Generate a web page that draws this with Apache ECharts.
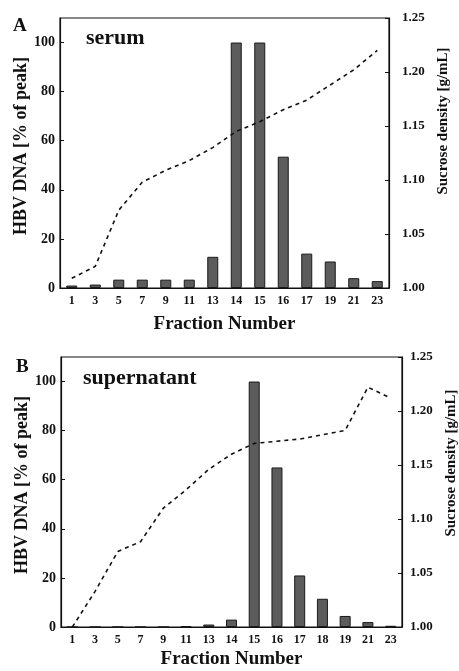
<!DOCTYPE html>
<html>
<head>
<meta charset="utf-8">
<script src="https://cdn.jsdelivr.net/npm/echarts@6/dist/echarts.min.js"></script>
<style>
  html, body { margin: 0; padding: 0; background: #fff; }
  #chart { width: 459px; height: 671px; }
</style>
</head>
<body>
<div id="chart"></div>
<script>
// Panel A: serum fractions
const fractionsA = ['1', '3', '5', '7', '9', '11', '13', '14', '15', '16', '17', '19', '21', '23'];
const dnaA = [1, 1.4, 3.4, 3.4, 3.4, 3.4, 12.7, 100, 100, 53.5, 14, 10.8, 4, 2.8];
const densityA = [1.009, 1.020, 1.072, 1.098, 1.109, 1.118, 1.130, 1.145, 1.154, 1.165, 1.174, 1.188, 1.202, 1.220];

// Panel B: supernatant fractions
const fractionsB = ['1', '3', '5', '7', '9', '11', '13', '14', '15', '16', '17', '18', '19', '21', '23'];
const dnaB = [0, 0, 0, 0, 0, 0.3, 1, 3, 100, 65, 21, 11.5, 4.5, 2, 0.5];
const densityB = [1.000, 1.033, 1.070, 1.079, 1.110, 1.127, 1.146, 1.160, 1.170, 1.172, 1.174, 1.178, 1.182, 1.222, 1.212];

// Axis ticks
const dnaTicks = { min: 0, max: 110, interval: 20 };
const densityTicks = { min: 1.00, max: 1.25, interval: 0.05 };

const FONT = '"Liberation Serif", "DejaVu Serif", serif';
const INK = '#111';

const chart = echarts.init(document.getElementById('chart'), null, { renderer: 'canvas' });

function xAxisFor(gridIndex, cats, gap) {
  return {
    type: 'category',
    gridIndex,
    data: cats,
    boundaryGap: true,
    name: 'Fraction Number',
    nameLocation: 'middle',
    nameGap: gap,
    nameMoveOverlap: false,
    nameTextStyle: { fontFamily: FONT, fontWeight: 'bold', fontSize: 19, color: INK },
    axisLine: { lineStyle: { color: INK, width: 1.2 } },
    axisTick: { show: false },
    axisLabel: { fontFamily: FONT, fontWeight: 'bold', fontSize: 12, color: INK, margin: 7, interval: 0 },
    splitLine: { show: false }
  };
}

function leftAxisFor(gridIndex) {
  return {
    type: 'value',
    gridIndex,
    min: dnaTicks.min,
    max: dnaTicks.max,
    interval: dnaTicks.interval,
    name: 'HBV DNA [% of peak]',
    nameLocation: 'middle',
    nameRotate: 90,
    nameGap: 30,
    nameMoveOverlap: false,
    nameTextStyle: { fontFamily: FONT, fontWeight: 'bold', fontSize: 18, color: INK, padding: [0, 0, 0, 14] },
    axisLine: { show: true, lineStyle: { color: INK, width: 1.2 } },
    axisTick: { show: true, inside: true, length: 4, lineStyle: { color: INK } },
    axisLabel: { fontFamily: FONT, fontWeight: 'bold', fontSize: 14, color: INK, margin: 5, showMaxLabel: false },
    splitLine: { show: false }
  };
}

function rightAxisFor(gridIndex, labelMargin, gap, lift) {
  return {
    type: 'value',
    gridIndex,
    position: 'right',
    min: densityTicks.min,
    max: densityTicks.max,
    interval: densityTicks.interval,
    name: 'Sucrose density [g/mL]',
    nameLocation: 'middle',
    nameRotate: 90,
    nameGap: gap,
    nameTextStyle: { fontFamily: FONT, fontWeight: 'bold', fontSize: 15, color: INK, padding: [0, 0, 0, lift] },
    axisLine: { show: true, lineStyle: { color: INK, width: 1.2 } },
    axisTick: { show: true, inside: true, length: 4, lineStyle: { color: INK } },
    axisLabel: { fontFamily: FONT, fontWeight: 'bold', fontSize: 13, color: INK, margin: labelMargin,
                 formatter: v => v.toFixed(2) },
    splitLine: { show: false }
  };
}

const barStyle = { color: '#5c5c5c', borderColor: '#1a1a1a', borderWidth: 1 };
const lineStyle = { color: INK, width: 1.6, type: [4, 4] };

const titleText = size => ({ fontFamily: FONT, fontWeight: 'bold', fontSize: size, color: INK });

const option = {
  animation: false,
  backgroundColor: '#fff',
  grid: [
    { left: 60, top: 18, width: 329, height: 270, show: true, borderColor: INK, borderWidth: 1.2,
      backgroundColor: 'transparent', containLabel: false, outerBoundsMode: 'none' },
    { left: 61, top: 357, width: 341, height: 270, show: true, borderColor: INK, borderWidth: 1.2,
      backgroundColor: 'transparent', containLabel: false, outerBoundsMode: 'none' }
  ],
  title: [
    { text: 'A', left: 13, top: 17, padding: 0, textStyle: titleText(19) },
    { text: 'serum', left: 86, top: 27, padding: 0, textStyle: titleText(22) },
    { text: 'B', left: 16, top: 358, padding: 0, textStyle: titleText(19) },
    { text: 'supernatant', left: 83, top: 367, padding: 0, textStyle: titleText(22) }
  ],
  xAxis: [xAxisFor(0, fractionsA, 27), xAxisFor(1, fractionsB, 23)],
  yAxis: [leftAxisFor(0), rightAxisFor(0, 13, 35, 64), leftAxisFor(1), rightAxisFor(1, 8, 40, 58)],
  series: [
    { type: 'bar', xAxisIndex: 0, yAxisIndex: 0, data: dnaA, barWidth: 11, itemStyle: barStyle },
    { type: 'line', xAxisIndex: 0, yAxisIndex: 1, data: densityA, symbol: 'none', lineStyle: lineStyle, z: 3 },
    { type: 'bar', xAxisIndex: 1, yAxisIndex: 2, data: dnaB, barWidth: 11, itemStyle: barStyle },
    { type: 'line', xAxisIndex: 1, yAxisIndex: 3, data: densityB, symbol: 'none', lineStyle: lineStyle, z: 3 }
  ]
};

chart.setOption(option);
</script>
</body>
</html>
